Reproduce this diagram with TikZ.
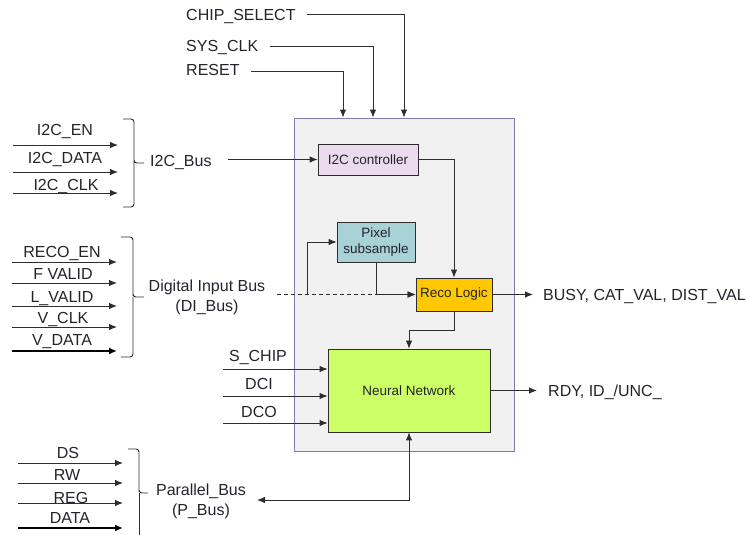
\documentclass[tikz,border=0pt]{standalone}
\usepackage{fontspec}
\setmainfont{Liberation Sans}
\usetikzlibrary{arrows.meta}
\definecolor{txt}{RGB}{35,35,45}
\definecolor{ln}{RGB}{45,45,45}
\definecolor{outerb}{RGB}{125,125,175}
\definecolor{outerf}{RGB}{241,241,241}
\definecolor{i2cf}{RGB}{234,220,238}
\definecolor{pixf}{RGB}{168,210,214}
\definecolor{recof}{RGB}{255,200,0}
\definecolor{nnf}{RGB}{204,255,102}
\begin{document}
\begin{tikzpicture}[x=1pt,y=-1pt,
  lbl/.style={inner sep=0pt, text=txt, font=\fontsize{16}{20}\selectfont},
  blk/.style={draw=ln, line width=0.8pt, inner sep=0pt, text=txt, font=\fontsize{13.5}{16}\selectfont, align=center},
  wire/.style={draw=ln, line width=0.9pt},
  arr/.style={wire, -{Latex[length=8pt,width=6.5pt]}},
  dblarr/.style={wire, {Latex[length=8pt,width=6.5pt]}-{Latex[length=8pt,width=6.5pt]}},
  busarr/.style={draw=black, line width=2.4pt, -{Latex[length=8pt,width=7pt]}},
  bracepath/.style={draw=ln, line width=0.9pt, rounded corners=3pt}]
\useasboundingbox (0,0) rectangle (747,535);

% outer block
\node[draw=outerb, fill=outerf, line width=0.9pt, minimum width=220pt, minimum height=333pt, inner sep=0pt] (outer) at (404,284.5) {};

% inner blocks
\node[blk, fill=i2cf, minimum width=100pt, minimum height=31pt] (i2c) at (368,159.5) {I2C controller};
\node[blk, fill=pixf, minimum width=78pt, minimum height=40pt] (pix) at (376,242) {Pixel\\subsample};
\node[blk, fill=recof, minimum width=76pt, minimum height=33pt] (reco) at (454,294.5) {Reco Logic};
\node[blk, fill=nnf, minimum width=162pt, minimum height=83pt] (nn) at (409,390.5) {Neural Network};

% top inputs
\node[lbl, anchor=base west] (chipsel) at (186,21) {CHIP\_SELECT};
\node[lbl, anchor=base west] (sysclk) at (186,52) {SYS\_CLK};
\node[lbl, anchor=base west] (reset) at (186,76) {RESET};
\coordinate (csin) at (307,14);
\coordinate (scin) at (270,46);
\coordinate (rsin) at (251,71);
\coordinate (csx) at (404,0);
\coordinate (scx) at (373,0);
\coordinate (rsx) at (343,0);
\draw[arr] (csin) -| (csx |- outer.north);
\draw[arr] (scin) -| (scx |- outer.north);
\draw[arr] (rsin) -| (rsx |- outer.north);

% I2C group
\node[lbl, anchor=base] (i2cen) at (65,135) {I2C\_EN};
\node[lbl, anchor=base] (i2cdata) at (65,163) {I2C\_DATA};
\node[lbl, anchor=base] (i2cclk) at (66,190) {I2C\_CLK};
\draw[arr] (13,145) coordinate (ia1) -- (118,145) coordinate (ib1);
\draw[arr] (13,172) coordinate (ia2) -- (118,172) coordinate (ib2);
\draw[arr] (13,193) coordinate (ia3) -- (118,193) coordinate (ib3);
\draw[bracepath] (123,119) -- (134,119) -- (134,160) -- (134,163) -- (144,163);
\draw[bracepath] (123,207) -- (134,207) -- (134,166) -- (134,163);
\node[lbl, anchor=base west] (i2cbus) at (150,166) {I2C\_Bus};
\coordinate (i2cbusout) at (228,159.5);
\draw[arr] (i2cbusout) -- (i2cbusout -| i2c.west);

% DI group
\node[lbl, anchor=base] (recoen) at (62,257) {RECO\_EN};
\node[lbl, anchor=base] (fvalid) at (63,279) {F VALID};
\node[lbl, anchor=base] (lvalid) at (62,302) {L\_VALID};
\node[lbl, anchor=base] (vclk) at (63,323) {V\_CLK};
\node[lbl, anchor=base] (vdata) at (62,345) {V\_DATA};
\draw[arr] (12,262) coordinate (da1) -- (117,262) coordinate (db1);
\draw[arr] (12,283) coordinate (da2) -- (117,283) coordinate (db2);
\draw[arr] (12,306) coordinate (da3) -- (117,306) coordinate (db3);
\draw[arr] (12,327) coordinate (da4) -- (117,327) coordinate (db4);
\draw[busarr] (12,351) coordinate (da5) -- (117,351) coordinate (db5);
\draw[bracepath] (121,237) -- (133,237) -- (133,293) -- (133,297) -- (144,297);
\draw[bracepath] (121,357) -- (133,357) -- (133,300) -- (133,297);
\node[lbl, anchor=base, align=center] (dibus) at (207,311) {Digital Input Bus\\(DI\_Bus)};
\coordinate (diout) at (277,294.5);
\coordinate (split) at (307,294.5);
\draw[wire, dash pattern=on 4pt off 3pt, -{Latex[length=8pt,width=6.5pt]}] (diout) -- (reco.west);
\draw[arr] (split) |- (pix.west);
\draw[arr] (pix.south) |- (reco.west);

% Reco outputs
\coordinate (busyend) at (533,294.5);
\draw[arr] (reco.east) -- (busyend);
\node[lbl, anchor=base west] (busy) at (543,300) {BUSY, CAT\_VAL, DIST\_VAL};
\draw[arr] (i2c.east) -| (reco.north);
\draw[arr] (reco.south) -- ++(0,19) -| (nn.north);

% NN inputs
\node[lbl, anchor=base] (schip) at (258,361) {S\_CHIP};
\node[lbl, anchor=base] (dci) at (259,389) {DCI};
\node[lbl, anchor=base] (dco) at (259,417) {DCO};
\coordinate (nnin1) at (223,369);
\coordinate (nnin2) at (223,396);
\coordinate (nnin3) at (223,423);
\draw[arr] (nnin1) -- (nnin1 -| nn.west);
\draw[arr] (nnin2) -- (nnin2 -| nn.west);
\draw[arr] (nnin3) -- (nnin3 -| nn.west);

% NN output
\coordinate (rdyend) at (537,390.5);
\draw[arr] (nn.east) -- (rdyend);
\node[lbl, anchor=base west] (rdy) at (548,396) {RDY, ID\_/UNC\_};

% Parallel group
\node[lbl, anchor=base] (ds) at (68,458) {DS};
\node[lbl, anchor=base] (rw) at (67,480) {RW};
\node[lbl, anchor=base] (reg) at (71,503) {REG};
\node[lbl, anchor=base] (data) at (70,523) {DATA};
\draw[arr] (18,463) coordinate (pa1) -- (123,463) coordinate (pb1);
\draw[arr] (18,483) coordinate (pa2) -- (123,483) coordinate (pb2);
\draw[arr] (18,503) coordinate (pa3) -- (123,503) coordinate (pb3);
\draw[busarr] (18,528) coordinate (pa4) -- (123,528) coordinate (pb4);
\draw[bracepath] (128,449) -- (139,449) -- (139,489) -- (139,493) -- (148,493);
\draw[bracepath] (139,493) -- (139,540);
\node[lbl, anchor=base, align=center] (pbus) at (201,515) {Parallel\_Bus\\(P\_Bus)};
\coordinate (pbusend) at (257,500);
\draw[dblarr] (pbusend) -| (nn.south);
\end{tikzpicture}
\end{document}
